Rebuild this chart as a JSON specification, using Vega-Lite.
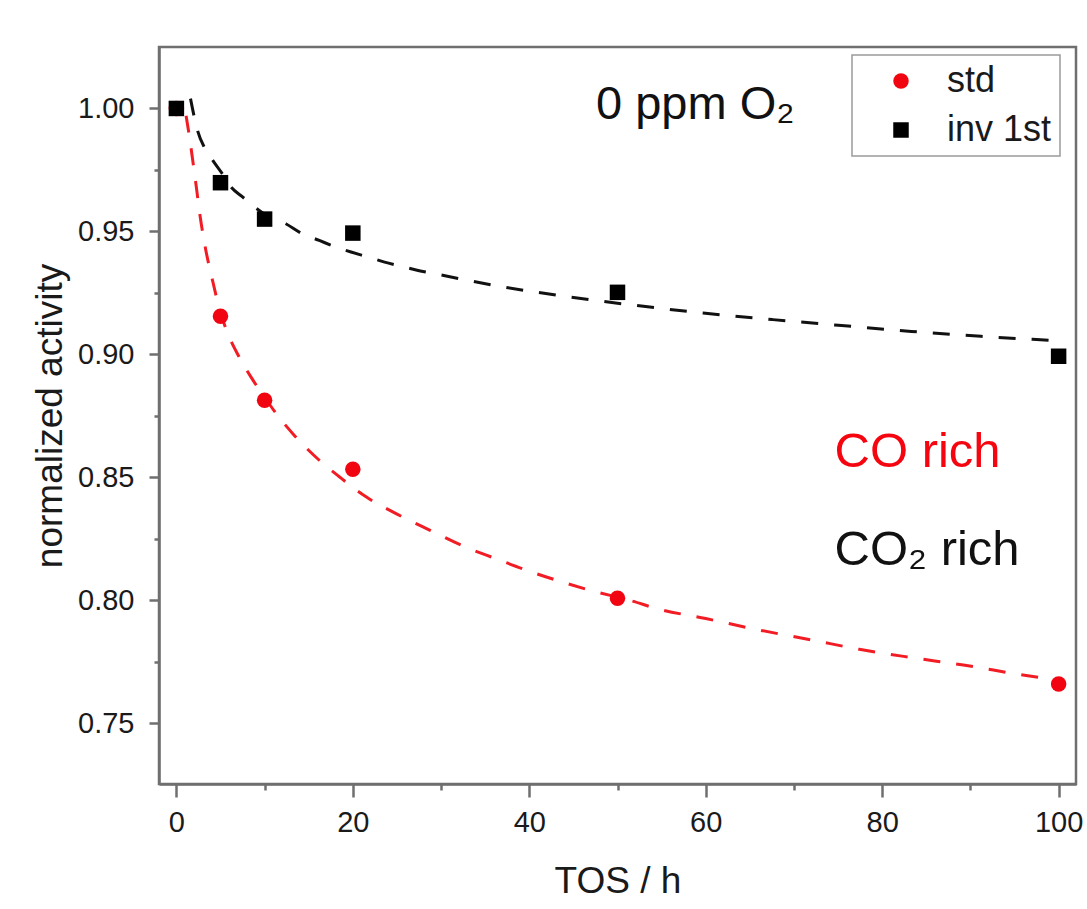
{
  "$schema": "https://vega.github.io/schema/vega-lite/v6.json",
  "width": 917,
  "height": 737,
  "autosize": {"type": "none"},
  "padding": {"left": 159, "top": 47, "right": 11, "bottom": 125},
  "background": "white",
  "datasets": {
    "measured": [
      {"series": "std", "tos": 0, "activity": 1.0},
      {"series": "std", "tos": 5, "activity": 0.9155},
      {"series": "std", "tos": 10, "activity": 0.8813},
      {"series": "std", "tos": 20, "activity": 0.8532},
      {"series": "std", "tos": 50, "activity": 0.8008},
      {"series": "std", "tos": 100, "activity": 0.7659},
      {"series": "inv 1st", "tos": 0, "activity": 1.0},
      {"series": "inv 1st", "tos": 5, "activity": 0.9698},
      {"series": "inv 1st", "tos": 10, "activity": 0.9550},
      {"series": "inv 1st", "tos": 20, "activity": 0.9493},
      {"series": "inv 1st", "tos": 50, "activity": 0.9252},
      {"series": "inv 1st", "tos": 100, "activity": 0.8992}
    ],
    "fit": [
      {"series": "std", "tos": 1.1, "activity": 0.997},
      {"series": "std", "tos": 1.5, "activity": 0.988},
      {"series": "std", "tos": 1.85, "activity": 0.979},
      {"series": "std", "tos": 2.3, "activity": 0.967},
      {"series": "std", "tos": 2.6, "activity": 0.9585},
      {"series": "std", "tos": 3.25, "activity": 0.944},
      {"series": "std", "tos": 4.1, "activity": 0.930},
      {"series": "std", "tos": 5.0, "activity": 0.917},
      {"series": "std", "tos": 6.0, "activity": 0.907},
      {"series": "std", "tos": 7.1, "activity": 0.899},
      {"series": "std", "tos": 8.5, "activity": 0.8905},
      {"series": "std", "tos": 10, "activity": 0.8825},
      {"series": "std", "tos": 11.5, "activity": 0.875},
      {"series": "std", "tos": 13.2, "activity": 0.8677},
      {"series": "std", "tos": 16.2, "activity": 0.8569},
      {"series": "std", "tos": 18.5, "activity": 0.8501},
      {"series": "std", "tos": 21.5, "activity": 0.842},
      {"series": "std", "tos": 24.9, "activity": 0.8352},
      {"series": "std", "tos": 28.7, "activity": 0.8285},
      {"series": "std", "tos": 32.5, "activity": 0.822},
      {"series": "std", "tos": 36.1, "activity": 0.817},
      {"series": "std", "tos": 39.8, "activity": 0.812},
      {"series": "std", "tos": 43.6, "activity": 0.8075},
      {"series": "std", "tos": 47.2, "activity": 0.8037},
      {"series": "std", "tos": 51.7, "activity": 0.7996},
      {"series": "std", "tos": 54.4, "activity": 0.7966},
      {"series": "std", "tos": 60, "activity": 0.7925},
      {"series": "std", "tos": 66.1, "activity": 0.7878},
      {"series": "std", "tos": 72, "activity": 0.7838},
      {"series": "std", "tos": 77.4, "activity": 0.780},
      {"series": "std", "tos": 83, "activity": 0.7768},
      {"series": "std", "tos": 89.2, "activity": 0.7736},
      {"series": "std", "tos": 96.7, "activity": 0.7691},
      {"series": "std", "tos": 100, "activity": 0.7675},
      {"series": "inv 1st", "tos": 1.6, "activity": 1.004},
      {"series": "inv 1st", "tos": 2.0, "activity": 0.997},
      {"series": "inv 1st", "tos": 2.4, "activity": 0.991},
      {"series": "inv 1st", "tos": 3.2, "activity": 0.984},
      {"series": "inv 1st", "tos": 4.1, "activity": 0.979},
      {"series": "inv 1st", "tos": 5.1, "activity": 0.974},
      {"series": "inv 1st", "tos": 6.2, "activity": 0.968},
      {"series": "inv 1st", "tos": 7.5, "activity": 0.964},
      {"series": "inv 1st", "tos": 10, "activity": 0.957},
      {"series": "inv 1st", "tos": 12.4, "activity": 0.9531},
      {"series": "inv 1st", "tos": 14.3, "activity": 0.949},
      {"series": "inv 1st", "tos": 16.2, "activity": 0.9463},
      {"series": "inv 1st", "tos": 18.1, "activity": 0.9436},
      {"series": "inv 1st", "tos": 19.8, "activity": 0.9416},
      {"series": "inv 1st", "tos": 21.7, "activity": 0.9396},
      {"series": "inv 1st", "tos": 23.6, "activity": 0.9375},
      {"series": "inv 1st", "tos": 25.5, "activity": 0.9358},
      {"series": "inv 1st", "tos": 27.4, "activity": 0.9341},
      {"series": "inv 1st", "tos": 29.3, "activity": 0.9328},
      {"series": "inv 1st", "tos": 32, "activity": 0.9308},
      {"series": "inv 1st", "tos": 36.1, "activity": 0.928},
      {"series": "inv 1st", "tos": 44, "activity": 0.9236},
      {"series": "inv 1st", "tos": 51.8, "activity": 0.920},
      {"series": "inv 1st", "tos": 59.7, "activity": 0.9168},
      {"series": "inv 1st", "tos": 67.6, "activity": 0.9141},
      {"series": "inv 1st", "tos": 75.4, "activity": 0.9117},
      {"series": "inv 1st", "tos": 83.3, "activity": 0.9093},
      {"series": "inv 1st", "tos": 91.2, "activity": 0.9073},
      {"series": "inv 1st", "tos": 99, "activity": 0.9057},
      {"series": "inv 1st", "tos": 100, "activity": 0.9055}
    ],
    "notes": [{}]
  },
  "layer": [
    {
      "data": {"name": "fit"},
      "transform": [{"filter": "datum.series === 'std'"}],
      "mark": {"type": "line", "interpolate": "monotone", "strokeWidth": 3, "strokeDash": [17, 16], "color": "#f21c24"},
      "encoding": {
        "x": {
          "field": "tos", "type": "quantitative",
          "scale": {"domain": [-1.97, 101.97], "nice": false, "zero": false},
          "axis": {"orient": "bottom", "values": [0, 20, 40, 60, 80, 100], "title": "TOS / h", "tickSize": 13, "labelPadding": 11, "titlePadding": 26}
        },
        "y": {
          "field": "activity", "type": "quantitative",
          "scale": {"domain": [0.7252, 1.025], "nice": false, "zero": false},
          "axis": {"orient": "left", "values": [0.75, 0.8, 0.85, 0.9, 0.95, 1.0], "format": ".2f", "title": "normalized activity", "tickSize": 10, "labelPadding": 15, "titlePadding": 8}
        }
      }
    },
    {
      "data": {"name": "fit"},
      "transform": [{"filter": "datum.series === 'inv 1st'"}],
      "mark": {"type": "line", "interpolate": "monotone", "strokeWidth": 3, "strokeDash": [17, 16], "color": "#111111"},
      "encoding": {
        "x": {"field": "tos", "type": "quantitative", "axis": null},
        "y": {"field": "activity", "type": "quantitative", "axis": null}
      }
    },
    {
      "data": {"name": "measured"},
      "mark": {"type": "point", "filled": true, "opacity": 1, "size": 240},
      "encoding": {
        "x": {
          "field": "tos", "type": "quantitative",
          "axis": {"orient": "bottom", "values": [10, 30, 50, 70, 90], "labels": false, "domain": false, "title": null, "tickSize": 6}
        },
        "y": {
          "field": "activity", "type": "quantitative",
          "axis": {"orient": "left", "values": [0.775, 0.825, 0.875, 0.925, 0.975], "labels": false, "domain": false, "title": null, "tickSize": 5}
        },
        "color": {
          "field": "series", "type": "nominal", "title": null,
          "scale": {"domain": ["std", "inv 1st"], "range": ["#f00510", "#000000"]}
        },
        "shape": {
          "field": "series", "type": "nominal", "title": null,
          "scale": {"domain": ["std", "inv 1st"], "range": ["circle", "square"]}
        }
      }
    },
    {
      "data": {"name": "notes"},
      "mark": {"type": "text", "align": "left", "baseline": "alphabetic", "fontSize": 47, "color": "#111111"},
      "encoding": {
        "x": {"datum": 47.56, "type": "quantitative", "axis": null},
        "y": {"datum": 0.9956, "type": "quantitative", "axis": null},
        "text": {"value": "0 ppm O₂"}
      }
    },
    {
      "data": {"name": "notes"},
      "mark": {"type": "text", "align": "left", "baseline": "alphabetic", "fontSize": 49, "color": "#f5050f"},
      "encoding": {
        "x": {"datum": 74.6, "type": "quantitative", "axis": null},
        "y": {"datum": 0.8542, "type": "quantitative", "axis": null},
        "text": {"value": "CO rich"}
      }
    },
    {
      "data": {"name": "notes"},
      "mark": {"type": "text", "align": "left", "baseline": "alphabetic", "fontSize": 49, "color": "#111111"},
      "encoding": {
        "x": {"datum": 74.6, "type": "quantitative", "axis": null},
        "y": {"datum": 0.8144, "type": "quantitative", "axis": null},
        "text": {"value": "CO₂ rich"}
      }
    }
  ],
  "resolve": {"axis": {"x": "independent", "y": "independent"}},
  "config": {
    "font": "Liberation Sans",
    "view": {"stroke": "#6f6f6f", "strokeWidth": 2.5},
    "axis": {
      "grid": false,
      "domainColor": "#6f6f6f",
      "domainWidth": 2.5,
      "tickColor": "#6f6f6f",
      "tickWidth": 2.5,
      "labelColor": "#1a1a1a",
      "titleColor": "#1a1a1a",
      "labelFontSize": 29,
      "titleFontSize": 37,
      "titleFontWeight": "normal"
    },
    "legend": {
      "orient": "none",
      "legendX": 693,
      "legendY": 8,
      "padding": 8,
      "symbolOffset": 23,
      "labelOffset": 28,
      "labelFontSize": 36,
      "labelColor": "#1a1a1a",
      "rowPadding": 13,
      "strokeColor": "#9a9a9a",
      "strokeWidth": 1.5,
      "fillColor": "white",
      "symbolSize": 240,
      "symbolStrokeWidth": 0
    }
  }
}
